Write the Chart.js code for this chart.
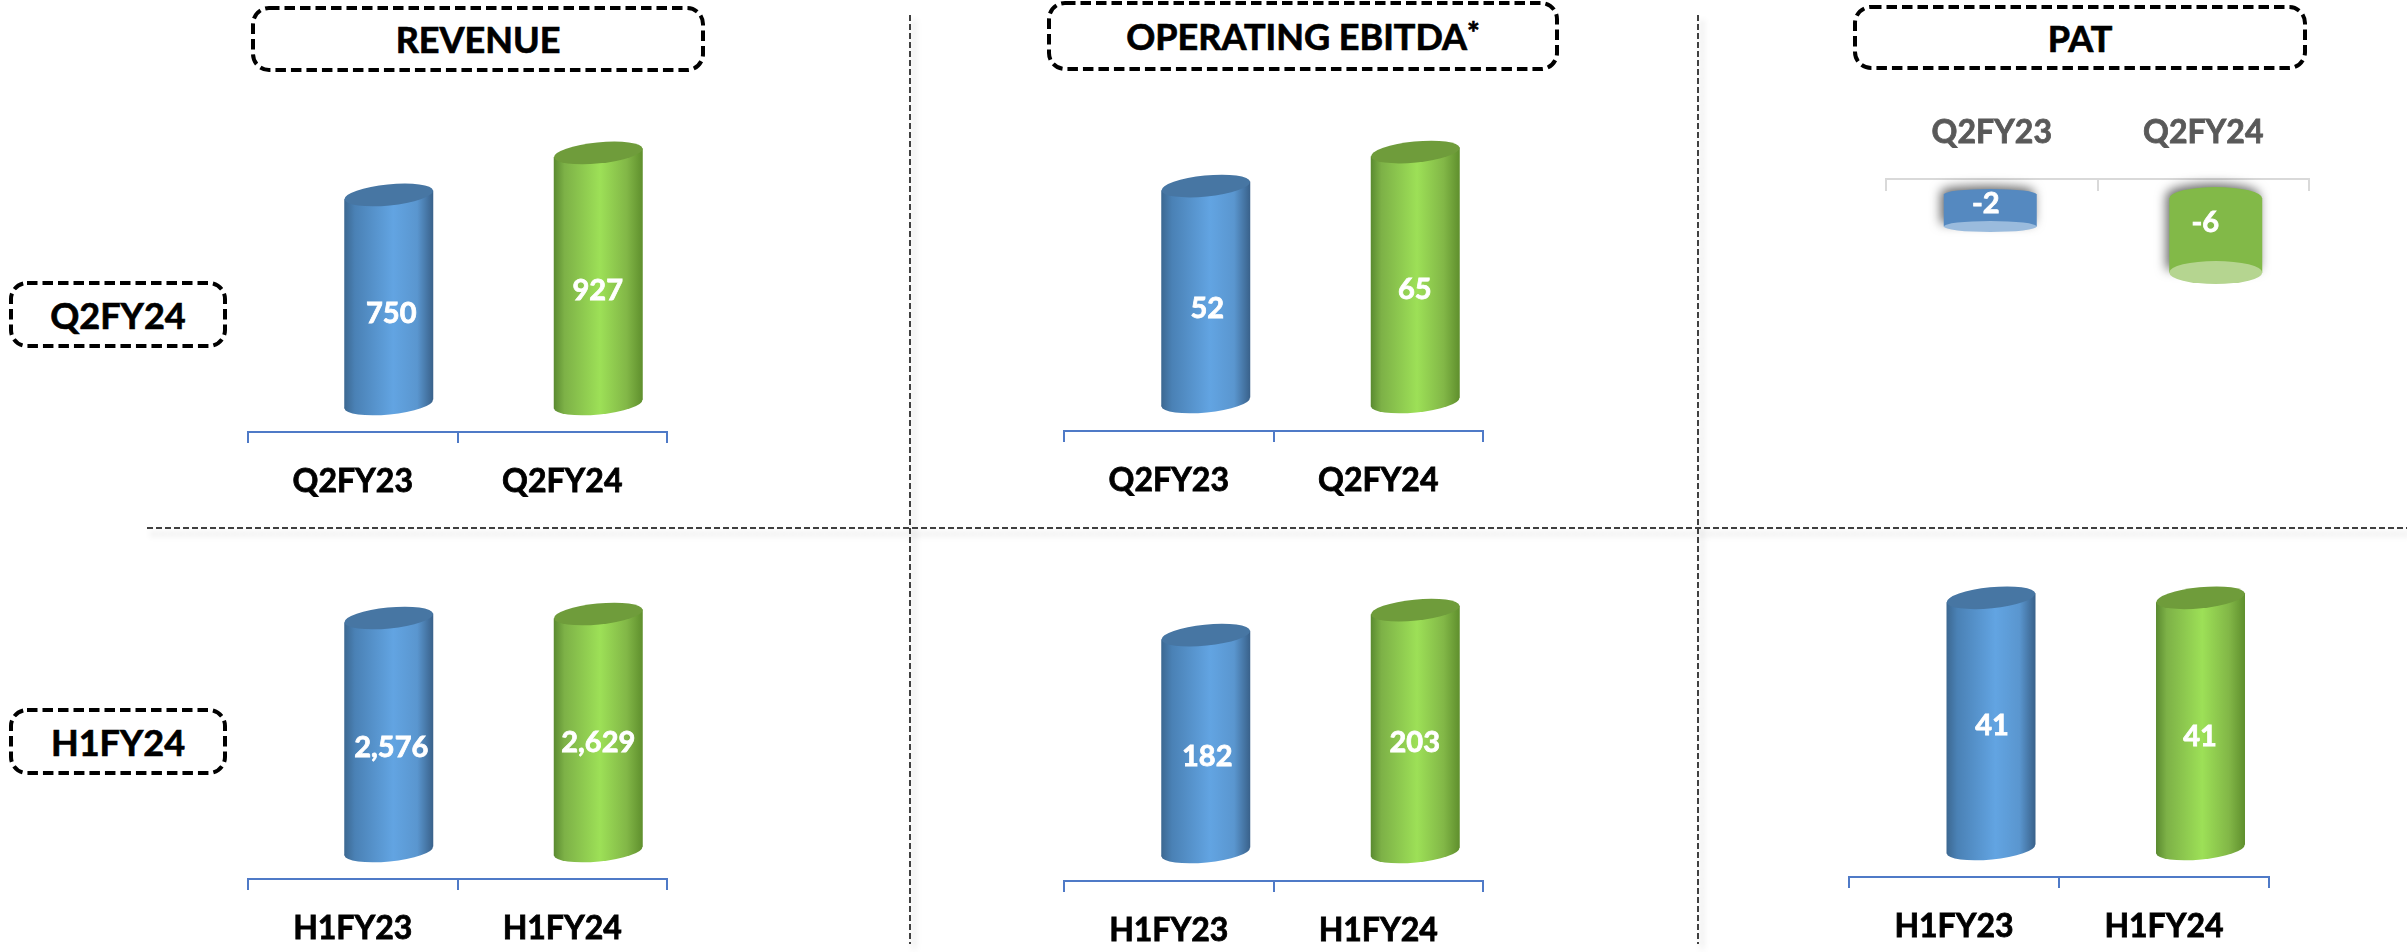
<!DOCTYPE html>
<html>
<head>
<meta charset="utf-8">
<title>Financial highlights</title>
<script src="https://cdn.jsdelivr.net/npm/chart.js@4"></script>
<style>
  html, body { margin: 0; padding: 0; background: #fff; }
  body { position: relative; width: 2407px; height: 952px; overflow: hidden; font-family: Lato, sans-serif; }
  svg { position: absolute; left: 0; top: 0; }
  canvas { position: absolute; }
  .box-label { position: absolute; display: flex; align-items: center; justify-content: center; font-weight: 700; color: #000; font-size: 36px; -webkit-text-stroke: 0.7px #000; }
  .box-label sup { font-size: 30px; line-height: 0; position: relative; top: -4px; }
</style>
</head>
<body>
<svg id="frame" width="2407" height="952"></svg>
<script>
// Categories
const q2Categories = ['Q2FY23', 'Q2FY24'];
const h1Categories = ['H1FY23', 'H1FY24'];

// Values
const revenueQ2 = [750, 927];
const revenueH1 = [2576, 2629];
const ebitdaQ2 = [52, 65];
const ebitdaH1 = [182, 203];
const patQ2 = [-2, -6];
const patH1 = [41, 41];

// Header and row boxes
const boxes = [
  { x: 253, y: 8, w: 450, h: 62, html: 'REVENUE' },
  { x: 1049, y: 3, w: 508, h: 66, html: 'OPERATING EBITDA<sup>*</sup>' },
  { x: 1855, y: 7, w: 450, h: 61, html: 'PAT' },
  { x: 11, y: 283, w: 214, h: 63, html: 'Q2FY24' },
  { x: 11, y: 710, w: 214, h: 63, html: 'H1FY24' }
];

// Panels: axis position in page pixels, hidden value scale range
const panels = [
  { cats: q2Categories, values: revenueQ2, left: 248, right: 667, top: 100, axis: 432, min: -131, max: 1268, dx: [36, 36], dy: -28, labelShift: [[2.5, 14], [-0.5, 12.5]] },
  { cats: h1Categories, values: revenueH1, left: 248, right: 667, top: 560, axis: 879, min: -510, max: 3715, dx: [36, 36], dy: -28, labelShift: [[2.5, 13.5], [0, 10.5]] },
  { cats: q2Categories, values: ebitdaQ2, left: 1064, right: 1483, top: 100, axis: 431, min: -30.6, max: 96, dx: [37, 37], dy: -29, labelShift: [[1.5, 15], [-0.5, 13]] },
  { cats: h1Categories, values: ebitdaH1, left: 1064, right: 1483, top: 560, axis: 881, min: 0, max: 269.4, dx: [37, 37], dy: -29, labelShift: [[1.5, 13.5], [-0.5, 12]] },
  { cats: h1Categories, values: patH1, left: 1849, right: 2269, top: 540, axis: 877, min: 0, max: 55, dx: [37, 36.5], dy: -28, labelShift: [[1, 2.5], [-0.5, 13.5]] }
];

const patTop = { cats: q2Categories, values: patQ2, left: 1885.5, right: 2309, axis: 179, bottom: 340, min: -14, max: 0, dx: [-1.5, 12.5], dy: 24.5, lift: [-9, -5], ry: [5.5, 11.5], labelShift: [[-4.5, -6.5], [-10.5, -12.5]] };

// Cylinder colours
const gradients = [
  [[0, '#3c6891'], [0.12, '#4a81b5'], [0.55, '#62a4e2'], [0.82, '#5a96cf'], [1, '#39618a']],
  [[0, '#5a8a30'], [0.12, '#7db147'], [0.52, '#9de057'], [0.82, '#82b747'], [1, '#5f8f2d']]
];
const capColors = ['#4776a3', '#6f9c3b'];
const flatColors = ['#5589c0', '#82b948'];
const flatBaseColors = ['#9abbdd', '#b5d590'];

const LABEL_FONT = '700 29px Lato, sans-serif';
const TILT = -0.1;
const TILTED_RY = 10.5;

function tiltedEllipse(ctx, cx, cy, rx) {
  ctx.beginPath();
  ctx.ellipse(cx, cy, rx, TILTED_RY, TILT, 0, Math.PI * 2);
  ctx.fill();
}

// Shaded cylinder leaning a little, as in the reference
function drawTilted(ctx, cx, yTop, yBot, width, index) {
  const rx = width / 2;
  const lean = rx * Math.sin(-TILT);
  const fill = ctx.createLinearGradient(cx - rx, 0, cx + rx, 0);
  gradients[index].forEach(([at, color]) => fill.addColorStop(at, color));
  ctx.fillStyle = fill;
  ctx.beginPath();
  ctx.moveTo(cx - rx, yTop + lean);
  ctx.lineTo(cx + rx, yTop - lean);
  ctx.lineTo(cx + rx, yBot - lean);
  ctx.lineTo(cx - rx, yBot + lean);
  ctx.closePath();
  ctx.fill();
  tiltedEllipse(ctx, cx, yBot, rx);
  ctx.fillStyle = capColors[index];
  tiltedEllipse(ctx, cx, yTop, rx);
}

// Flat hanging cylinder with a soft shadow, used for the loss bars
function drawFlat(ctx, cx, yTop, yBot, width, ry, index) {
  const rx = width / 2;
  ctx.save();
  ctx.shadowColor = 'rgba(0,0,0,0.6)';
  ctx.shadowBlur = 11;
  ctx.shadowOffsetX = -3;
  ctx.shadowOffsetY = -3;
  ctx.fillStyle = flatColors[index];
  ctx.beginPath();
  ctx.ellipse(cx, yTop, rx, ry, 0, Math.PI, Math.PI * 2);
  ctx.lineTo(cx + rx, yBot);
  ctx.lineTo(cx - rx, yBot);
  ctx.closePath();
  ctx.fill();
  ctx.restore();
  ctx.fillStyle = flatBaseColors[index];
  ctx.beginPath();
  ctx.ellipse(cx, yBot, rx, ry, 0, 0, Math.PI * 2);
  ctx.fill();
}

const cylinderPlugin = {
  id: 'cylinders',
  beforeDatasetDraw(chart) {
    const { ctx } = chart;
    const panel = chart.options.plugins.cylinders.panel;
    chart.getDatasetMeta(0).data.forEach((bar, i) => {
      const cx = bar.x + panel.dx[i];
      if (panel.lift) {
        drawFlat(ctx, cx, bar.base + panel.dy + panel.lift[i], bar.y + panel.dy, bar.width, panel.ry[i], i);
      } else {
        drawTilted(ctx, cx, bar.y + panel.dy, bar.base + panel.dy, bar.width, i);
      }
    });
    return false;
  },
  // returning false above skips afterDatasetDraw, so labels go here
  afterDatasetsDraw(chart) {
    const { ctx } = chart;
    const panel = chart.options.plugins.cylinders.panel;
    ctx.save();
    ctx.font = LABEL_FONT;
    ctx.fillStyle = '#fff';
    ctx.strokeStyle = '#fff';
    ctx.lineWidth = 0.8;
    ctx.textAlign = 'center';
    ctx.textBaseline = 'middle';
    chart.getDatasetMeta(0).data.forEach((bar, i) => {
      const [sx, sy] = panel.labelShift[i];
      const yTop = panel.lift ? bar.base + panel.dy + panel.lift[i] : bar.y + panel.dy;
      const yBot = panel.lift ? bar.y + panel.dy : bar.base + panel.dy;
      const text = panel.values[i].toLocaleString('en-US');
      const lx = bar.x + panel.dx[i] + sx;
      const ly = (yTop + yBot) / 2 + sy;
      ctx.fillText(text, lx, ly);
      ctx.strokeText(text, lx, ly);
    });
    ctx.restore();
  }
};

function addCanvas(left, top, width, height) {
  const canvas = document.createElement('canvas');
  canvas.style.left = left + 'px';
  canvas.style.top = top + 'px';
  canvas.style.width = width + 'px';
  canvas.style.height = height + 'px';
  canvas.width = width;
  canvas.height = height;
  document.body.appendChild(canvas);
  return canvas;
}

function createPanel(canvas, panel, xOptions, barThickness) {
  return new Chart(canvas, {
    type: 'bar',
    data: {
      labels: panel.cats,
      datasets: [{
        data: panel.values,
        base: panel.lift ? undefined : panel.min,
        barThickness,
        backgroundColor: flatColors
      }]
    },
    options: {
      responsive: false,
      animation: false,
      layout: { padding: { left: 2, right: 2, top: 0, bottom: 0 } },
      plugins: { legend: { display: false }, tooltip: { enabled: false }, cylinders: { panel } },
      scales: {
        x: xOptions,
        y: { display: false, min: panel.min, max: panel.max }
      }
    },
    plugins: [cylinderPlugin]
  });
}

// Lower axis panels
const AXIS_BAND = 72;
panels.forEach(panel => {
  const canvas = addCanvas(panel.left - 2, panel.top, panel.right - panel.left + 4, panel.axis - panel.top + AXIS_BAND);
  createPanel(canvas, panel, {
    position: 'bottom',
    afterFit: scale => { scale.height = AXIS_BAND; },
    border: { color: '#4f7ac7', width: 2 },
    grid: { drawOnChartArea: false, color: '#4f7ac7', lineWidth: 2, tickLength: 11 },
    ticks: { color: '#000', textStrokeColor: '#000', textStrokeWidth: 0.8, font: { family: 'Lato, sans-serif', size: 32, weight: '700' }, padding: 19, maxRotation: 0, autoSkip: false }
  }, 89);
});

// Loss panel has its axis on top, ticks hanging down and grey labels
const topCanvas = addCanvas(patTop.left - 2, patTop.axis - AXIS_BAND, patTop.right - patTop.left + 4, patTop.bottom - patTop.axis + AXIS_BAND);
createPanel(topCanvas, patTop, {
  position: 'top',
  afterFit: scale => { scale.height = AXIS_BAND; },
  border: { color: '#d9d9d9', width: 2 },
  grid: { drawOnChartArea: false, color: '#d9d9d9', lineWidth: 2, tickLength: -12 },
  ticks: { color: '#595959', textStrokeColor: '#595959', textStrokeWidth: 0.8, font: { family: 'Lato, sans-serif', size: 32, weight: '700' }, padding: 39, maxRotation: 0, autoSkip: false }
}, 93);

// Dashed frames and dividers
const SVG_NS = 'http://www.w3.org/2000/svg';
const frame = document.getElementById('frame');

function svgEl(name, attrs, parent) {
  const el = document.createElementNS(SVG_NS, name);
  Object.keys(attrs).forEach(k => el.setAttribute(k, attrs[k]));
  parent.appendChild(el);
  return el;
}

const dividers = svgEl('g', { style: 'filter: drop-shadow(4px 6px 3px rgba(0,0,0,0.22))' }, frame);
const dividerStyle = { stroke: '#404040', 'stroke-width': 2, 'stroke-dasharray': '6 3' };
[[147, 528, 2407, 528], [910, 15, 910, 944], [1698, 15, 1698, 944]].forEach(([x1, y1, x2, y2]) => {
  svgEl('line', { x1, y1, x2, y2, ...dividerStyle }, dividers);
});

boxes.forEach(box => {
  svgEl('rect', { x: box.x, y: box.y, width: box.w, height: box.h, rx: 16, fill: 'none', stroke: '#000', 'stroke-width': 4, 'stroke-dasharray': '10.5 5' }, frame);
  const label = document.createElement('div');
  label.className = 'box-label';
  label.style.left = box.x + 'px';
  label.style.top = box.y + 'px';
  label.style.width = box.w + 'px';
  label.style.height = box.h + 'px';
  label.innerHTML = box.html;
  document.body.appendChild(label);
});
</script>
</body>
</html>
